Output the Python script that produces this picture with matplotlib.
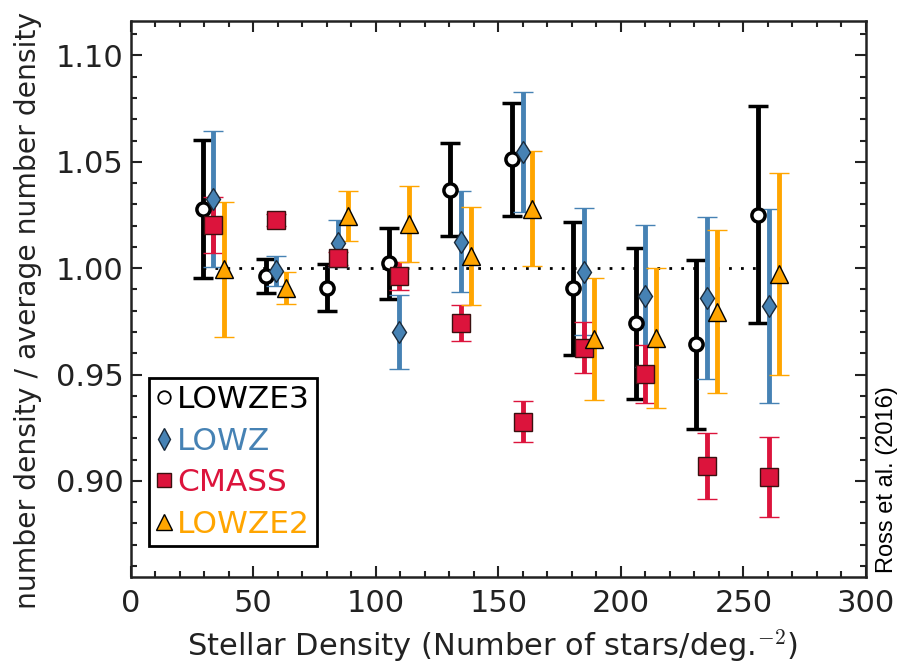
import matplotlib
matplotlib.use("Agg")
import matplotlib.pyplot as plt
from matplotlib.lines import Line2D
from matplotlib.ticker import MultipleLocator

plt.rcParams["font.family"] = "DejaVu Sans"
plt.rcParams["mathtext.fontset"] = "cm"

# stellar density bins for each sample
x_lowze3 = [29.4, 55.1, 80.2, 105.2, 130.2, 155.4, 180.5, 206.0, 230.8, 255.9]
x_lowz = [33.7, 59.3, 84.4, 109.4, 134.6, 160.1, 184.9, 210.0, 235.2, 260.3]
x_cmass = [33.7, 59.3, 84.4, 109.4, 134.6, 160.1, 184.9, 210.0, 235.2, 260.3]
x_lowze2 = [38.2, 63.2, 88.5, 113.5, 138.7, 163.9, 188.9, 214.2, 239.2, 264.4]

# normalised number densities and their errors
y_lowze3 = [1.0277, 0.9963, 0.9909, 1.0022, 1.0369, 1.0511, 0.9905, 0.9740, 0.9643, 1.0252]
e_lowze3 = [0.0325, 0.0078, 0.0112, 0.0166, 0.0218, 0.0267, 0.0312, 0.0356, 0.0397, 0.0510]

y_lowz = [1.0324, 0.9987, 1.0116, 0.9698, 1.0124, 1.0547, 0.9983, 0.9870, 0.9860, 0.9821]
e_lowz = [0.0320, 0.0071, 0.0110, 0.0174, 0.0238, 0.0283, 0.0298, 0.0335, 0.0380, 0.0456]

y_cmass = [1.0202, 1.0226, 1.0046, 0.9962, 0.9742, 0.9278, 0.9627, 0.9502, 0.9070, 0.9019]
e_cmass = [0.0132, 0.0030, 0.0030, 0.0065, 0.0083, 0.0097, 0.0118, 0.0136, 0.0153, 0.0187]

y_lowze2 = [0.9995, 0.9907, 1.0245, 1.0208, 1.0058, 1.0279, 0.9666, 0.9674, 0.9796, 0.9971]
e_lowze2 = [0.0318, 0.0076, 0.0117, 0.0178, 0.0230, 0.0271, 0.0286, 0.0329, 0.0382, 0.0474]

blue = "#4682b4"
red = "#dc143c"
orange = "#ffa500"

fig = plt.figure(figsize=(9.02, 6.64), dpi=100)
ax = fig.add_axes([0.1449, 0.1315, 0.8152, 0.8373])

# reference line at unity
ax.plot([x_lowze3[0], x_lowze3[-1]], [1.0, 1.0], color="k", lw=2,
        linestyle=(0, (1, 3.3)), zorder=1)

bar_kw = dict(elinewidth=3.5, capsize=7.4, capthick=1.6, linestyle="none")
ax.errorbar(x_lowze3, y_lowze3, yerr=e_lowze3, fmt="o", color="k", ecolor="k",
            ms=9.5, mfc="white", mec="k", mew=2.5, **bar_kw)
ax.errorbar(x_lowz, y_lowz, yerr=e_lowz, fmt="d", ecolor=blue,
            ms=11.5, mfc=blue, mec="#1a2a3a", mew=1, **bar_kw)
ax.errorbar(x_cmass, y_cmass, yerr=e_cmass, fmt="s", ecolor=red,
            ms=13.5, mfc=red, mec="#3a1010", mew=1, **bar_kw)
ax.errorbar(x_lowze2, y_lowze2, yerr=e_lowze2, fmt="^", ecolor=orange,
            ms=12.5, mfc=orange, mec="k", mew=1, **bar_kw)

ax.set_xlim(0, 300)
ax.set_ylim(0.855, 1.1163)
ax.xaxis.set_major_locator(MultipleLocator(50))
ax.xaxis.set_minor_locator(MultipleLocator(10))
ax.yaxis.set_major_locator(MultipleLocator(0.05))
ax.yaxis.set_minor_locator(MultipleLocator(0.01))
ax.yaxis.set_major_formatter(plt.FormatStrFormatter("%.2f"))

ax.tick_params(which="both", direction="in", top=True, right=True,
               width=1.5, colors="#222222", labelsize=22)
ax.tick_params(which="major", length=8)
ax.tick_params(which="minor", length=4)
ax.tick_params(axis="x", pad=9)
ax.tick_params(axis="y", pad=5)
for sp in ax.spines.values():
    sp.set_linewidth(1.8)
    sp.set_color("#222222")

ax.set_xlabel(r"Stellar Density (Number of stars/deg.$^{-2}$)", fontsize=22,
              color="#222222")
ax.xaxis.set_label_coords(0.4927, -0.091)
ax.set_ylabel("number density / average number density", fontsize=20.3,
              color="#222222")
ax.yaxis.set_label_coords(-0.121, 0.479)

handles = [
    Line2D([], [], ls="none", marker="o", ms=9, mfc="white", mec="k", mew=1.3),
    Line2D([], [], ls="none", marker="d", ms=11, mfc=blue, mec="#1a2a3a", mew=1),
    Line2D([], [], ls="none", marker="s", ms=10.5, mfc=red, mec="#3a1010", mew=1),
    Line2D([], [], ls="none", marker="^", ms=11, mfc=orange, mec="k", mew=1),
]
labels = ["LOWZE3", "LOWZ", "CMASS", "LOWZE2"]
leg = ax.legend(handles, labels, loc="lower left", bbox_to_anchor=(0.025, 0.055),
                borderaxespad=0, fontsize=22.5, numpoints=1, handlelength=0.5,
                handletextpad=0.17, borderpad=0.23, labelspacing=0.4,
                fancybox=False, framealpha=1)
leg.get_frame().set_edgecolor("k")
leg.get_frame().set_linewidth(2)
for txt, c in zip(leg.get_texts(), ["k", blue, red, orange]):
    txt.set_color(c)

fig.text(0.983, 0.137, "Ross et al. (2016)", rotation=90, ha="center",
         va="bottom", fontsize=17, family="Liberation Sans")

fig.savefig("out.png", dpi=100)
